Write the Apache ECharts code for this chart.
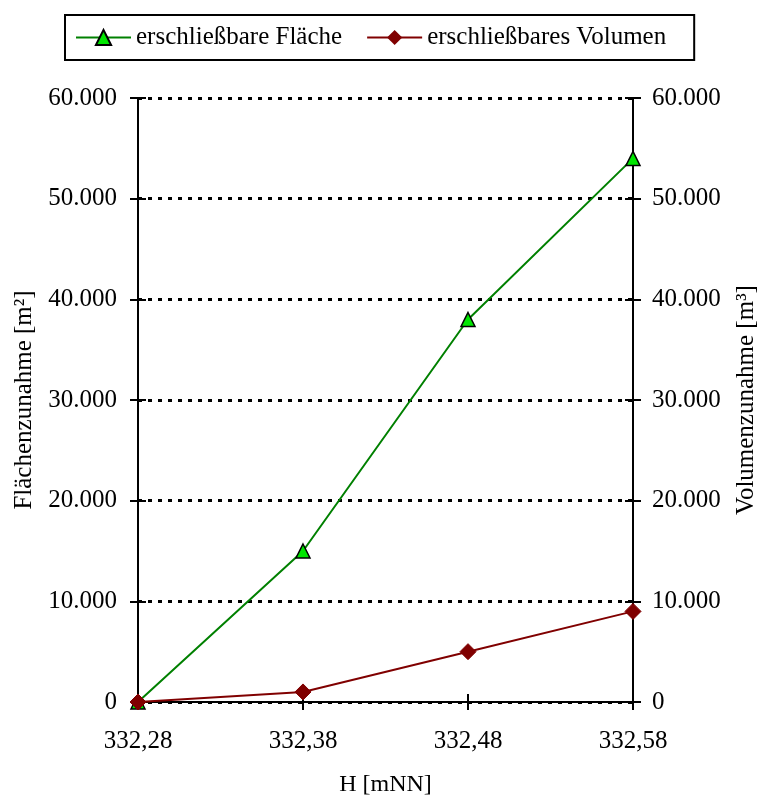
<!DOCTYPE html>
<html>
<head>
<meta charset="utf-8">
<script src="https://cdn.jsdelivr.net/npm/echarts@6/dist/echarts.min.js"></script>
<style>
html, body { margin: 0; padding: 0; background: #fff; }
#chart { width: 759px; height: 798px; }
</style>
</head>
<body>
<div id="chart"></div>
<script>
// Höhen (x-Achse) und Zunahmen
var heights = ['332,28', '332,38', '332,48', '332,58'];
var flaeche = [0, 15000, 38000, 54000];
var volumen = [0, 1000, 5000, 9000];
var seriesNames = ['erschließbare Fläche', 'erschließbares Volumen'];

var font = 'Liberation Serif';
var fmt = function (v) {
	return String(v).replace(/\B(?=(\d{3})+(?!\d))/g, '.');
};

function yAx(pos, name, inner) {
	return {
		type: 'value',
		position: pos,
		min: 0,
		max: 60000,
		interval: 10000,
		name: inner ? '' : name,
		nameLocation: 'middle',
		nameGap: pos == 'left' ? 98 : 101,
		nameTextStyle: { fontFamily: font, fontSize: 25, color: '#000' },
		axisLine: { show: !inner, lineStyle: { color: '#000', width: 2 } },
		axisTick: { show: true, inside: inner, length: 8, lineStyle: { color: '#000', width: 2 } },
		axisLabel: {
			show: !inner,
			margin: pos == 'left' ? 21 : 19,
			fontFamily: font, fontSize: 25, color: '#000',
			formatter: fmt
		},
		splitLine: {
			show: !inner && pos == 'left',
			lineStyle: { color: '#000', width: 3, type: [4, 6] }
		}
	};
}

var chart = echarts.init(document.getElementById('chart'));
var option = {
	animation: false,
	backgroundColor: '#fff',
	grid: { left: 138, right: 126, top: 98, bottom: 96, outerBoundsMode: 'none', containLabel: false },
	legend: {
		left: 65,
		top: 15,
		padding: [10, 28, 10, 10],
		borderColor: '#000',
		borderWidth: 2,
		itemWidth: 55,
		itemHeight: 19,
		itemGap: 24,
		textStyle: { fontFamily: font, fontSize: 25, color: '#000' },
		data: seriesNames
	},
	xAxis: [{
		type: 'category',
		data: heights,
		boundaryGap: false,
		name: 'H [mNN]',
		nameLocation: 'middle',
		nameGap: 71,
		nameTextStyle: { fontFamily: font, fontSize: 24, color: '#000' },
		axisLine: { lineStyle: { color: '#000', width: 2 } },
		axisTick: { length: 8, lineStyle: { color: '#000', width: 2 } },
		axisLabel: { margin: 27, fontFamily: font, fontSize: 25, color: '#000' },
		splitLine: { show: false }
	}, {
		type: 'category',
		data: heights,
		boundaryGap: false,
		position: 'bottom',
		axisLine: { show: false },
		axisTick: { inside: true, length: 8, lineStyle: { color: '#000', width: 2 } },
		axisLabel: { show: false }
	}],
	yAxis: [
		yAx('left', 'Flächenzunahme [m²]', false),
		yAx('right', 'Volumenzunahme [m³]', false),
		yAx('left', '', true),
		yAx('right', '', true)
	],
	series: [{
		name: seriesNames[0],
		type: 'line',
		yAxisIndex: 0,
		data: flaeche,
		symbol: 'triangle',
		symbolSize: 14,
		lineStyle: { color: '#008000', width: 2 },
		itemStyle: { color: '#00e600', borderColor: '#000', borderWidth: 1.5 },
		z: 3
	}, {
		name: seriesNames[1],
		type: 'line',
		yAxisIndex: 1,
		data: volumen,
		symbol: 'diamond',
		symbolSize: 16,
		lineStyle: { color: '#800000', width: 2 },
		itemStyle: { color: '#800000', borderColor: '#800000' },
		z: 4
	}]
};
chart.setOption(option);
</script>
</body>
</html>
